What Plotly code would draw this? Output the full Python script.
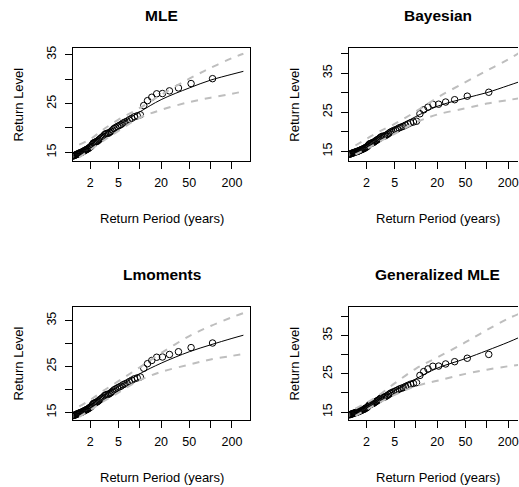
import math
import plotly.graph_objects as go

W, H = 519, 487
FONT = "Liberation Sans, Arial, Helvetica, sans-serif"

# ---------------- data ----------------
n_obs = 106  # sample size (plotting positions i/(n+1))
# largest observed levels, in descending order (only the visible part of the sample)
top_levels = [30.1, 29.1, 28.2, 27.6, 27.05, 27.0, 26.3, 25.6, 24.6, 22.7,
              22.5, 22.3, 22.0, 21.7, 21.4, 21.2, 21.0, 20.7, 20.5, 20.3,
              20.1, 19.9, 19.6, 19.3, 19.1, 18.9, 18.9, 18.8, 18.6, 18.3,
              18.1, 17.9, 17.7, 17.5, 17.3, 17.2, 17.1, 17.0, 16.9, 16.6,
              16.3, 16.1, 16.0, 15.8, 15.7, 15.6, 15.5, 15.4, 15.3, 15.2,
              15.1, 15.0, 14.95, 14.9, 14.8, 14.7, 14.65, 14.6, 14.5, 14.4,
              14.35, 14.3, 14.25, 14.2]

rl_periods = [1.4, 2, 3, 5, 10, 20, 50, 100, 200, 290]

mle_fit = [15.0, 16.6, 18.5, 20.6, 23.3, 25.8, 28.2, 29.8, 31.0, 31.6]
mle_hi  = [16.6, 17.7, 19.6, 21.7, 24.1, 26.8, 30.1, 32.3, 34.3, 35.2]
mle_lo  = [14.0, 15.5, 17.3, 19.4, 22.1, 23.7, 25.3, 26.2, 27.0, 27.5]

bay_fit = [15.0, 16.7, 18.6, 20.9, 23.9, 26.5, 28.6, 30.0, 31.8, 32.8]
bay_hi  = [16.5, 18.2, 20.0, 22.0, 25.2, 28.7, 32.7, 35.6, 38.5, 40.2]
bay_lo  = [14.2, 15.6, 17.4, 19.5, 22.4, 24.4, 26.0, 27.2, 28.1, 28.6]

lmo_fit = [15.0, 16.6, 18.5, 20.6, 23.4, 25.7, 28.2, 29.7, 31.1, 31.8]
lmo_hi  = [16.3, 17.7, 19.6, 21.8, 24.8, 27.9, 31.6, 33.8, 35.7, 36.6]
lmo_lo  = [14.0, 15.5, 17.3, 19.3, 22.0, 23.8, 25.4, 26.5, 27.3, 27.7]

gml_fit = [14.9, 16.5, 18.4, 20.6, 23.7, 26.5, 29.0, 31.1, 33.3, 34.6]
gml_hi  = [15.9, 17.4, 19.4, 22.5, 26.4, 29.3, 33.3, 36.5, 39.5, 40.8]
gml_lo  = [14.0, 15.6, 17.4, 19.5, 21.8, 23.2, 25.0, 26.1, 27.0, 27.4]

panel_titles = ["MLE", "Bayesian", "Lmoments", "Generalized MLE"]
x_tickvals = [1, 2, 5, 10, 20, 50, 100, 200]
x_ticktext = ["1", "2", "5", "", "20", "50", "", "200"]

# empirical return periods from plotting positions
emp_T = [-1.0 / math.log(1 - k / (n_obs + 1)) for k in range(1, len(top_levels) + 1)]

# ---------------- layout geometry (pixels) ----------------
panels = [
    dict(fit=mle_fit, hi=mle_hi, lo=mle_lo, x0=73.3, x1=250.5, y0=46, y1=159.3,
         yr=[13.31, 36.42], yt=[15, 20, 25, 30, 35], xr=[0.06, 2.556], clip=False),
    dict(fit=bay_fit, hi=bay_hi, lo=bay_lo, x0=350, x1=519, y0=46, y1=159.3,
         yr=[12.63, 41.45], yt=[15, 20, 25, 30, 35, 40], xr=[0.06, 2.44], clip=True),
    dict(fit=lmo_fit, hi=lmo_hi, lo=lmo_lo, x0=73.3, x1=250.5, y0=306, y1=419.3,
         yr=[13.42, 38.0], yt=[15, 20, 25, 30, 35], xr=[0.06, 2.556], clip=False),
    dict(fit=gml_fit, hi=gml_hi, lo=gml_lo, x0=350, x1=519, y0=306, y1=419.3,
         yr=[13.02, 42.6], yt=[15, 20, 25, 30, 35, 40], xr=[0.06, 2.44], clip=True),
]

fig = go.Figure()
annotations = []
layout_axes = {}

for i, (p, title) in enumerate(zip(panels, panel_titles), start=1):
    xa = "x" if i == 1 else f"x{i}"
    ya = "y" if i == 1 else f"y{i}"
    fig.add_trace(go.Scatter(
        x=emp_T, y=top_levels, mode="markers", xaxis=xa, yaxis=ya,
        marker=dict(symbol="circle-open", size=6.5, color="black",
                    line=dict(width=1, color="black")),
        showlegend=False, hoverinfo="skip"))
    fig.add_trace(go.Scatter(
        x=rl_periods, y=p["fit"], mode="lines", xaxis=xa, yaxis=ya,
        line=dict(color="black", width=1, shape="spline"),
        showlegend=False, hoverinfo="skip"))
    for key in ("hi", "lo"):
        fig.add_trace(go.Scatter(
            x=rl_periods, y=p[key], mode="lines", xaxis=xa, yaxis=ya,
            line=dict(color="#BEBEBE", width=2, dash="7px,7px", shape="spline"),
            showlegend=False, hoverinfo="skip"))

    full_w = 177.2  # unclipped box width
    cx = p["x0"] + full_w / 2
    xname = "xaxis" if i == 1 else f"xaxis{i}"
    yname = "yaxis" if i == 1 else f"yaxis{i}"
    layout_axes[xname] = dict(
        type="log", range=p["xr"], domain=[p["x0"] / W, p["x1"] / W],
        anchor=ya, tickvals=x_tickvals, ticktext=x_ticktext,
        ticks="outside", ticklen=7, tickcolor="black", tickwidth=1,
        showline=True, linecolor="black", linewidth=1, mirror=True,
        showgrid=False, zeroline=False, ticklabelstandoff=3,
        ticklabeloverflow="allow",
        tickfont=dict(family=FONT, size=12.5, color="black"))
    layout_axes[yname] = dict(
        range=p["yr"], domain=[1 - p["y1"] / H, 1 - p["y0"] / H],
        anchor=xa, tickvals=p["yt"],
        ticktext=[str(v) if v in (15, 25, 35) else "" for v in p["yt"]],
        tickangle=-90, ticks="outside", ticklen=7, tickcolor="black", tickwidth=1,
        showline=True, linecolor="black", linewidth=1, mirror=not p["clip"],
        showgrid=False, zeroline=False, ticklabelstandoff=4,
        ticklabeloverflow="allow",
        tickfont=dict(family=FONT, size=12.5, color="black"))

    annotations.append(dict(
        text=f"<b>{title}</b>", x=cx / W, y=1 - (p["y0"] - 32) / H,
        xref="paper", yref="paper", showarrow=False, xanchor="center", yanchor="middle",
        font=dict(family=FONT, size=15.5, color="black")))
    annotations.append(dict(
        text="Return Period (years)", x=cx / W, y=1 - (p["y1"] + 58.5) / H,
        xref="paper", yref="paper", showarrow=False, xanchor="center", yanchor="middle",
        font=dict(family=FONT, size=13, color="black")))
    annotations.append(dict(
        text="Return Level", x=(p["x0"] - 55) / W, y=1 - ((p["y0"] + p["y1"]) / 2) / H,
        xref="paper", yref="paper", showarrow=False, xanchor="center", yanchor="middle",
        textangle=-90, font=dict(family=FONT, size=13, color="black")))

fig.update_layout(
    width=W, height=H, autosize=False,
    margin=dict(l=0, r=0, t=0, b=0),
    paper_bgcolor="white", plot_bgcolor="white",
    annotations=annotations, **layout_axes)

fig.write_html("out.html",
               config={"displayModeBar": False},
               post_script="document.body.style.margin='0';document.body.style.overflow='hidden';")
